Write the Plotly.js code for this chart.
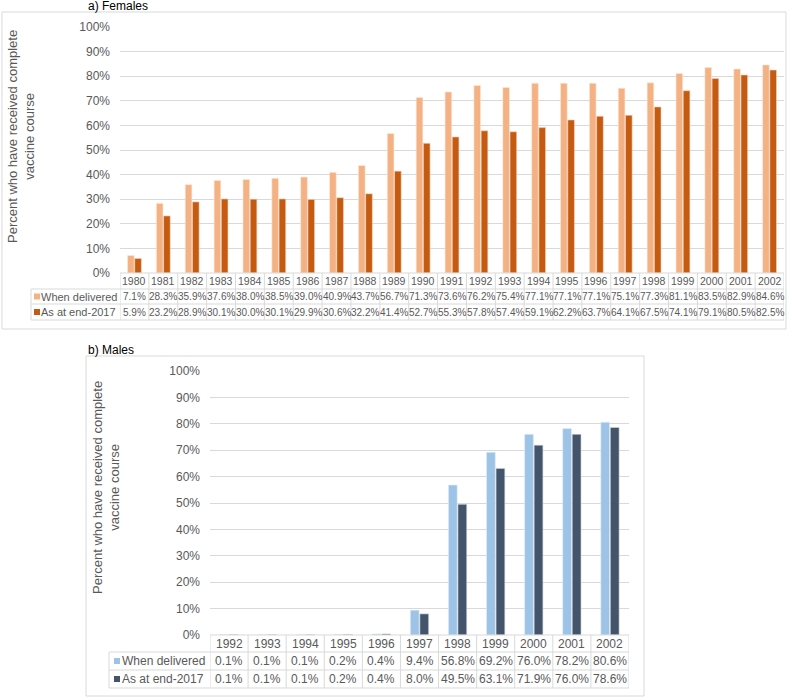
<!DOCTYPE html>
<html><head><meta charset="utf-8">
<script src="https://cdn.plot.ly/plotly-3.0.1.min.js"></script>
<style>body{margin:0;padding:0;background:#fff}#chart{width:789px;height:697px}</style>
</head><body><div id="chart"></div>
<script>
// ---- data ----
const femYears = [1980,1981,1982,1983,1984,1985,1986,1987,1988,1989,1990,1991,1992,1993,1994,1995,1996,1997,1998,1999,2000,2001,2002];
const femDelivered = [7.1,28.3,35.9,37.6,38.0,38.5,39.0,40.9,43.7,56.7,71.3,73.6,76.2,75.4,77.1,77.1,77.1,75.1,77.3,81.1,83.5,82.9,84.6];
const femEnd2017 = [5.9,23.2,28.9,30.1,30.0,30.1,29.9,30.6,32.2,41.4,52.7,55.3,57.8,57.4,59.1,62.2,63.7,64.1,67.5,74.1,79.1,80.5,82.5];
const maleYears = [1992,1993,1994,1995,1996,1997,1998,1999,2000,2001,2002];
const maleDelivered = [0.1,0.1,0.1,0.2,0.4,9.4,56.8,69.2,76.0,78.2,80.6];
const maleEnd2017 = [0.1,0.1,0.1,0.2,0.4,8.0,49.5,63.1,71.9,76.0,78.6];
const seriesNames = ['When delivered','As at end-2017'];
const panelTitles = ['a) Females','b) Males'];
const yTitle = 'Percent who have received complete<br>vaccine course';

// ---- layout helpers ----
const W = 789, H = 697;
const px = x => x / W;
const py = y => 1 - y / H;
const FONT = 'Liberation Sans, Arial, sans-serif';
const GRAY = '#595959';
const LINE = '#d9d9d9';

const colors = {
  fem: ['#F4B183', '#C55A11'],
  male: ['#9DC3E6', '#44546A']
};

const traces = [
  {type:'bar', name:seriesNames[0], x:femYears, y:femDelivered, xaxis:'x', yaxis:'y', marker:{color:colors.fem[0], line:{color:'#fde9d9', width:0.6}}, hoverinfo:'skip'},
  {type:'bar', name:seriesNames[1], x:femYears, y:femEnd2017, xaxis:'x', yaxis:'y', marker:{color:colors.fem[1], line:{color:'#f3d3bd', width:0.6}}, hoverinfo:'skip'},
  {type:'bar', name:seriesNames[0], x:maleYears, y:maleDelivered, xaxis:'x2', yaxis:'y2', marker:{color:colors.male[0], line:{color:'#e3eef8', width:0.6}}, hoverinfo:'skip'},
  {type:'bar', name:seriesNames[1], x:maleYears, y:maleEnd2017, xaxis:'x2', yaxis:'y2', marker:{color:colors.male[1], line:{color:'#d0d6de', width:0.6}}, hoverinfo:'skip'}
];

const shapes = [];
const annotations = [];

function panel(cfg) {
  const {years, vals, cols, xref, box, plotX0, plotX1, rows, legX0, legSq, legTextX, yearSize, valSize, legSize, title, titleXY, yTitleXY} = cfg;
  shapes.push({type:'rect', xref:'paper', yref:'paper', x0:px(box[0]), x1:px(box[2]), y0:py(box[3]), y1:py(box[1]), line:{color:LINE, width:1}, layer:'below'});
  annotations.push({xref:'paper', yref:'paper', x:px(titleXY[0]), y:py(titleXY[1]), xanchor:'left', yanchor:'middle', text:title, showarrow:false, font:{family:FONT, size:12, color:'#000'}});
  annotations.push({xref:'paper', yref:'paper', x:px(yTitleXY[0]), y:py(yTitleXY[1]), xanchor:'center', yanchor:'middle', text:yTitle, textangle:-90, showarrow:false, font:{family:FONT, size:13, color:GRAY}});
  shapes.push({type:'line', xref:'paper', yref:'paper', x0:px(plotX0), x1:px(plotX1), y0:py(rows[0]), y1:py(rows[0]), line:{color:LINE, width:1}});
  for (let r = 1; r < rows.length; r++) {
    shapes.push({type:'line', xref:'paper', yref:'paper', x0:px(legX0), x1:px(plotX1), y0:py(rows[r]), y1:py(rows[r]), line:{color:LINE, width:1}});
  }
  shapes.push({type:'line', xref:'paper', yref:'paper', x0:px(legX0), x1:px(legX0), y0:py(rows[1]), y1:py(rows[3]), line:{color:LINE, width:1}});
  years.forEach((yr) => {
    shapes.push({type:'line', xref:xref, yref:'paper', x0:yr-0.5, x1:yr-0.5, y0:py(rows[0]), y1:py(rows[3]), line:{color:LINE, width:1}});
  });
  const last = years[years.length-1];
  shapes.push({type:'line', xref:xref, yref:'paper', x0:last+0.5, x1:last+0.5, y0:py(rows[0]), y1:py(rows[3]), line:{color:LINE, width:1}});
  years.forEach((yr, i) => {
    annotations.push({xref:xref, yref:'paper', x:yr, y:py((rows[0]+rows[1])/2), xanchor:'center', yanchor:'middle', text:String(yr), showarrow:false, font:{family:FONT, size:yearSize, color:GRAY}});
    for (let s = 0; s < 2; s++) {
      annotations.push({xref:xref, yref:'paper', x:yr, y:py((rows[s+1]+rows[s+2])/2), xanchor:'center', yanchor:'middle', text:vals[s][i].toFixed(1)+'%', showarrow:false, font:{family:FONT, size:valSize, color:GRAY}});
    }
  });
  for (let s = 0; s < 2; s++) {
    const cy = (rows[s+1]+rows[s+2])/2;
    shapes.push({type:'rect', xref:'paper', yref:'paper', x0:px(legSq), x1:px(legSq+6), y0:py(cy+3), y1:py(cy-3), fillcolor:cols[s], line:{width:0}});
    annotations.push({xref:'paper', yref:'paper', x:px(legTextX), y:py(cy), xanchor:'left', yanchor:'middle', text:seriesNames[s], showarrow:false, font:{family:FONT, size:legSize, color:GRAY}});
  }
}

panel({years:femYears, vals:[femDelivered, femEnd2017], cols:colors.fem, xref:'x',
  box:[2,12,786,329], plotX0:120, plotX1:784, rows:[273,289,304,320], legX0:31, legSq:34, legTextX:39,
  yearSize:10.5, valSize:10, legSize:11, title:panelTitles[0], titleXY:[86,6], yTitleXY:[21,137]});
panel({years:maleYears, vals:[maleDelivered, maleEnd2017], cols:colors.male, xref:'x2',
  box:[86,356,644,696], plotX0:210, plotX1:629, rows:[635,652,670,688], legX0:109, legSq:114, legTextX:120,
  yearSize:12, valSize:12, legSize:12, title:panelTitles[1], titleXY:[86,350], yTitleXY:[106,488]});

const yaxisBase = {range:[0,100], dtick:10, ticksuffix:'%', showgrid:true, gridcolor:LINE, gridwidth:1, zeroline:false, showline:false, ticks:'', ticklabelstandoff:9, tickfont:{family:FONT, size:12, color:GRAY}, fixedrange:true};
const layout = {
  width:W, height:H, margin:{l:0, r:0, t:0, b:0}, paper_bgcolor:'#fff', plot_bgcolor:'rgba(0,0,0,0)',
  showlegend:false, barmode:'group', bargap:0.5, bargroupgap:0.08,
  xaxis:{domain:[px(120), px(784)], range:[femYears[0]-0.5, femYears[femYears.length-1]+0.5], showticklabels:false, showgrid:false, zeroline:false, ticks:'', anchor:'y', fixedrange:true},
  yaxis:Object.assign({}, yaxisBase, {domain:[py(273), py(27)], anchor:'x'}),
  xaxis2:{domain:[px(210), px(629)], range:[maleYears[0]-0.5, maleYears[maleYears.length-1]+0.5], showticklabels:false, showgrid:false, zeroline:false, ticks:'', anchor:'y2', fixedrange:true},
  yaxis2:Object.assign({}, yaxisBase, {domain:[py(635), py(371)], anchor:'x2'}),
  shapes:shapes, annotations:annotations
};
Plotly.newPlot('chart', traces, layout, {displayModeBar:false, staticPlot:true});
</script>
</body></html>
